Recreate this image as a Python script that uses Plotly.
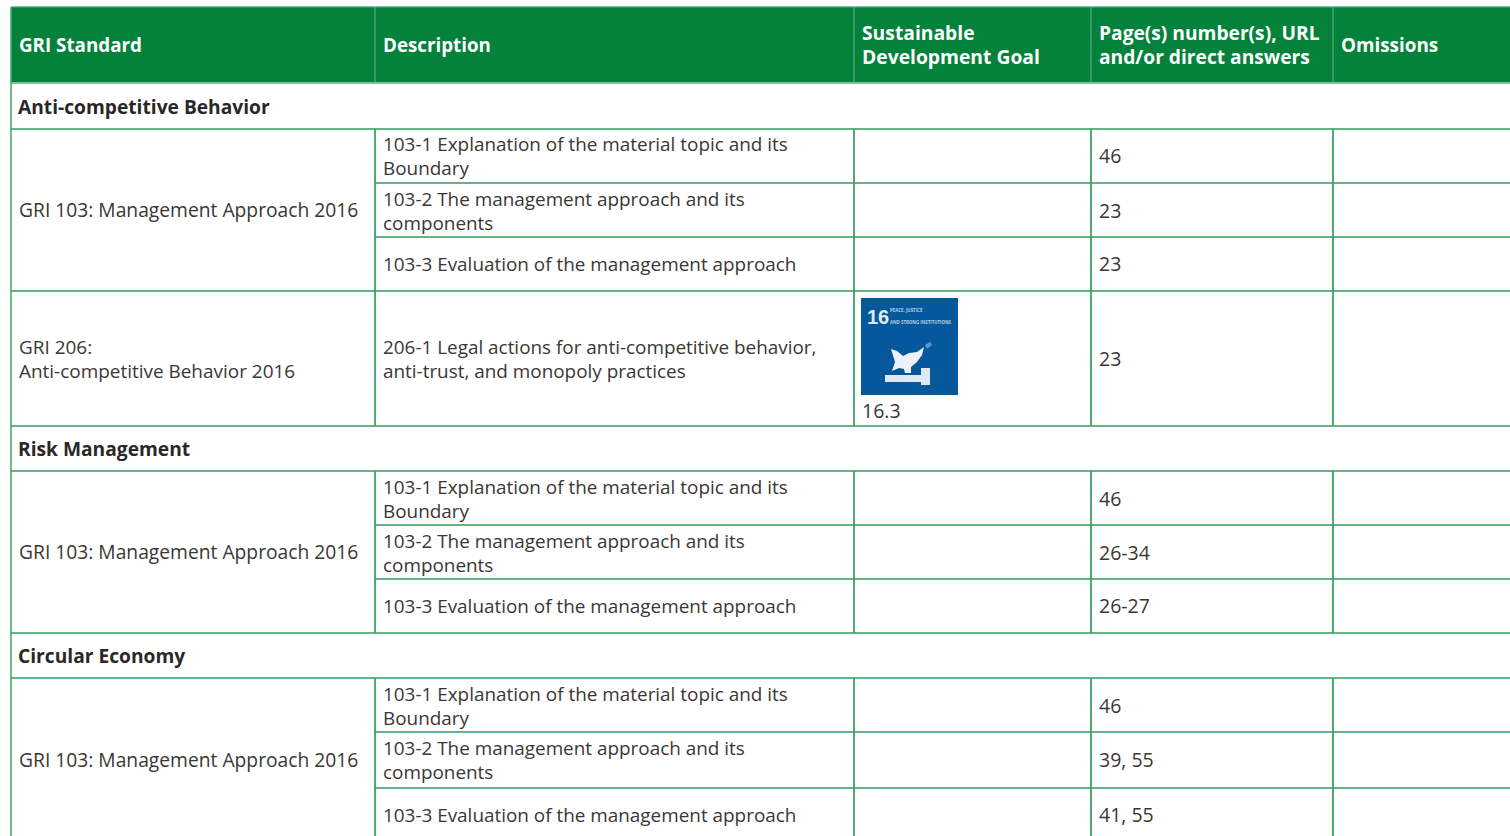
import plotly.graph_objects as go

# ---------- table content ----------
headers = [["GRI Standard"], ["Description"], ["Sustainable", "Development Goal"],
           ["Page(s) number(s), URL", "and/or direct answers"], ["Omissions"]]
sections = ["Anti-competitive Behavior", "Risk Management", "Circular Economy"]
approach = ["GRI 103: Management Approach 2016"]
disclosure_1 = ["103-1 Explanation of the material topic and its", "Boundary"]
disclosure_2 = ["103-2 The management approach and its", "components"]
disclosure_3 = ["103-3 Evaluation of the management approach"]
gri206 = ["GRI 206:", "Anti-competitive Behavior 2016"]
disclosure_206 = ["206-1 Legal actions for anti-competitive behavior,", "anti-trust, and monopoly practices"]
sdg_target = "16.3"
sdg_number = "16"
sdg_title = ["PEACE, JUSTICE", "AND STRONG INSTITUTIONS"]
pages_anti = ["46", "23", "23", "23"]
pages_risk = ["46", "26-34", "26-27"]
pages_circ = ["46", "39, 55", "41, 55"]

# ---------- layout (pixels of the page) ----------
W, H = 1510, 836
col_x = [11, 375, 854, 1091, 1333]
pad = 8
GREEN = "#04813b"
LINE = "#2f9a5e"
VLINE = "#4aa673"
INK = "#3a3735"
FONT = "Open Sans"
FS_DESC = 18.9
FS_STD = 19.25
FS_PAGE = 19.5
FS_SEC = 19.2
FS_HEAD = [18.8, 18.75, 19.3, 19.2, 18.85]
HEAD_MID = [46, 45, 45, 45, 46]

shapes, notes = [], []


def label(x, y, s, bold=False, color=INK, size=FS_DESC, anchor="left", family=FONT):
    notes.append(dict(x=x, y=y - 1, xref="x", yref="y", text=s, showarrow=False, xanchor=anchor, yanchor="middle",
                      align="left", borderpad=0, borderwidth=0,
                      font=dict(family=family, size=size, color=color, weight=700 if bold else 400)))


def hline(y, x0=11, x1=W, color=LINE, w=1.6):
    shapes.append(dict(type="line", xref="x", yref="y", x0=x0, x1=x1, y0=y, y1=y, line=dict(color=color, width=w)))


def vline(x, y0, y1, color=VLINE, w=1.8):
    shapes.append(dict(type="line", xref="x", yref="y", x0=x, x1=x, y0=y0, y1=y1, line=dict(color=color, width=w)))


def cell(x, yc, lines, **kw):
    step = 24
    y = yc - step * (len(lines) - 1) / 2
    for i, s in enumerate(lines):
        label(x, y + i * step, s, **kw)


# header band
shapes.append(dict(type="rect", xref="x", yref="y", x0=11, x1=W, y0=7, y1=82, fillcolor=GREEN,
                   line=dict(width=0)))
hline(6.8, color="#5aae80", w=1.2)
hline(83, color="#58ad7e", w=1.6)
for x in col_x[1:]:
    vline(x, 7, 82, color="#58ad7e", w=1.2)
for x, lines, fs, ym in zip(col_x, headers, FS_HEAD, HEAD_MID):
    cell(x + pad - (0.5 if x == 11 else 0), ym, lines, bold=True, color="#ffffff", size=fs)


def block(section, y_sec_mid, y_top, row_bottoms, mids_text, pages, merged_mid):
    label(col_x[0] + pad - 1, y_sec_mid, section, bold=True, color="#2a2727", size=FS_SEC)
    hline(y_top)
    for b in row_bottoms:
        hline(b, x0=col_x[1] if b != row_bottoms[-1] or b >= H else 11)
    bottom = min(row_bottoms[-1], H)
    for x in col_x[1:]:
        vline(x, y_top, bottom, color="#3d9f68")
    cell(col_x[0] + pad - 0.5, merged_mid, approach, size=FS_STD)
    for m, lines in zip(mids_text, [disclosure_1, disclosure_2, disclosure_3]):
        cell(col_x[1] + pad - 0.5, m + 1, lines)
    for m, p in zip(mids_text, pages):
        label(col_x[3] + pad - 0.5, m, p, size=FS_PAGE)


# left outer border
vline(col_x[0], 7, H, color="#4aa673", w=1.6)

block(sections[0], 107, 129, [183, 237, 291], [156, 211, 264], pages_anti[:3], 210)
block(sections[1], 449, 471, [525, 579, 633], [499, 553, 606], pages_risk, 552)
block(sections[2], 656, 678, [732, 788, 845], [706, 760, 815], pages_circ, 760)

# GRI 206 row
hline(426)
for x in col_x[1:]:
    vline(x, 291, 426, color="#3d9f68")
cell(col_x[0] + pad - 0.5, 360, gri206, size=18.95)
cell(col_x[1] + pad - 0.5, 360, disclosure_206)
label(col_x[3] + pad - 0.5, 359, pages_anti[3], size=FS_PAGE)
label(col_x[2] + pad - 0.5, 411, sdg_target, size=FS_PAGE)

# SDG 16 icon
BLUE = "#04589b"
shapes.append(dict(type="rect", xref="x", yref="y", x0=861, x1=958, y0=298, y1=395, fillcolor=BLUE, line=dict(width=0)))
dove = ("M 891 349 L 897 351 L 903 356 L 909 353 L 917 352 L 924 347 L 922 355 L 917 362 L 911 367 "
        "L 911 373 L 905 373 L 904 369 L 899 368 L 892 371 L 895 362 Z")
gavel = "M 885 375 L 921 375 L 921 368 L 930 368 L 930 385 L 921 385 L 921 382 L 885 382 Z"
branch = "M 925 345 L 930 342 L 932 345 L 927 349 Z"
for p, c in [(dove, "#eef2f8"), (gavel, "#dfe9f3"), (branch, "#5f94c2")]:
    shapes.append(dict(type="path", xref="x", yref="y", path=p, fillcolor=c, line=dict(width=0)))
label(878, 318, sdg_number, bold=True, color="#dfe9f3", size=20, anchor="center", family="Liberation Sans")
for yy, s in zip([311, 323], sdg_title):
    label(890, yy, s, bold=True, color="#b9d0e6", size=4.4)

fig = go.Figure()
fig.update_layout(
    width=W, height=H, margin=dict(l=0, r=0, t=0, b=0), paper_bgcolor="#ffffff", plot_bgcolor="#ffffff",
    showlegend=False, shapes=shapes, annotations=notes,
    xaxis=dict(range=[0, W], visible=False, fixedrange=True),
    yaxis=dict(range=[H, 0], visible=False, fixedrange=True),
)
fig.write_html("out.html", config=dict(displayModeBar=False),
               post_script="document.body.style.margin='0';document.body.style.overflow='hidden';")
